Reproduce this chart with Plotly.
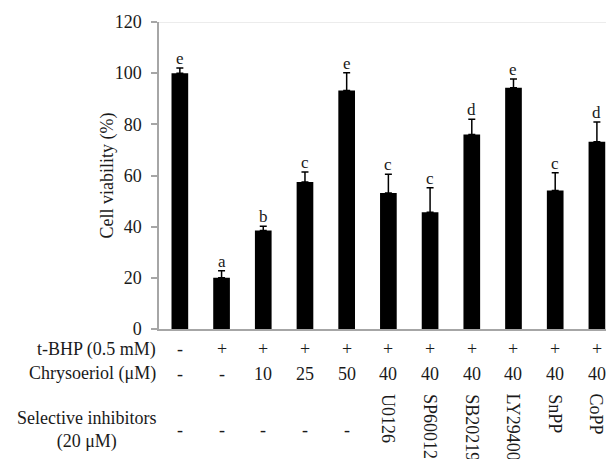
import plotly.graph_objects as go

# ---- data ----
positions = list(range(11))
viability = [100, 20, 38.5, 57.5, 93.2, 53.2, 45.6, 76.0, 94.3, 54.1, 73.2]
errors = [2.0, 2.8, 1.7, 3.9, 7.0, 7.3, 9.6, 6.0, 3.4, 7.0, 7.7]
letters = ["e", "a", "b", "c", "e", "c", "c", "d", "e", "c", "d"]
tbhp = ["-", "+", "+", "+", "+", "+", "+", "+", "+", "+", "+"]
chrysoeriol = ["-", "-", "10", "25", "50", "40", "40", "40", "40", "40", "40"]
inhibitors = ["-", "-", "-", "-", "-", "U0126", "SP600125", "SB202190",
              "LY294002", "SnPP", "CoPP"]
row_labels = ["t-BHP (0.5 mM)", "Chrysoeriol (μM)", "Selective inhibitors<br>(20 μM)"]
y_ticks = [0, 20, 40, 60, 80, 100, 120]
y_title = "Cell viability (%)"

FONT = "Liberation Serif"
TXT = "#1a1a1a"
AX = "#a6a6a6"

# the page body adds an 8 px margin, so the figure is sized to fill the rest
OFF = 8
W, H = 614 - OFF, 459 - OFF
L, R, T, B = 159 - OFF, 0, 22 - OFF, 130
PH = H - T - B
BOTTOM_PIX = 329  # page pixel of y = 0


def paper_y(pix):
    return (BOTTOM_PIX - pix) / PH


fig = go.Figure()
fig.add_trace(go.Bar(
    x=positions, y=viability, width=0.4,
    marker=dict(color="black", line=dict(width=0)),
    error_y=dict(type="data", array=errors, arrayminus=[0] * len(errors),
                 symmetric=False, color="black", thickness=1.5, width=3.5),
    showlegend=False,
))

ann = []
# significance letters
for xi, v, e, lt in zip(positions, viability, errors, letters):
    ann.append(dict(x=xi, y=v + e, xref="x", yref="y", text=lt, showarrow=False,
                    yanchor="bottom", xanchor="center", yshift=-2,
                    font=dict(family=FONT, size=17, color=TXT)))

# table rows
row_y = [349, 373.5, 430]
for xi, s in zip(positions, tbhp):
    ann.append(dict(x=xi, y=paper_y(row_y[0]), xref="x", yref="paper", text=s,
                    showarrow=False, yanchor="middle", xanchor="center",
                    font=dict(family=FONT, size=18, color=TXT)))
for xi, s in zip(positions, chrysoeriol):
    ann.append(dict(x=xi, y=paper_y(row_y[1]), xref="x", yref="paper", text=s,
                    showarrow=False, yanchor="middle", xanchor="center",
                    font=dict(family=FONT, size=18, color=TXT)))
for xi, s in zip(positions, inhibitors):
    if s == "-":
        ann.append(dict(x=xi, y=paper_y(row_y[2]), xref="x", yref="paper", text=s,
                        showarrow=False, yanchor="middle", xanchor="center",
                        font=dict(family=FONT, size=18, color=TXT)))
    else:
        ann.append(dict(x=xi, y=paper_y(392), xref="x", yref="paper", text=s,
                        showarrow=False, yanchor="top", xanchor="center",
                        textangle=90,
                        font=dict(family=FONT, size=18, color=TXT)))

for lbl, yp in zip(row_labels, row_y):
    ann.append(dict(x=0, y=paper_y(yp), xref="paper", yref="paper", text=lbl,
                    showarrow=False, yanchor="middle", xanchor="right",
                    align="center", xshift=-1,
                    font=dict(family=FONT, size=18, color=TXT)))

# y-axis title
ann.append(dict(x=0, y=0.5, xref="paper", yref="paper", text=y_title,
                showarrow=False, textangle=-90, xanchor="center",
                yanchor="middle", xshift=107 - 159,
                font=dict(family=FONT, size=18, color=TXT)))

fig.update_layout(
    width=W, height=H,
    margin=dict(l=L, r=R, t=T, b=B, autoexpand=False),
    paper_bgcolor="white", plot_bgcolor="white",
    annotations=ann,
    shapes=[dict(type="line", xref="paper", yref="y", x0=0, x1=1, y0=120, y1=120,
                 line=dict(color="#e6e6e6", width=1.5))],
    xaxis=dict(range=[-0.5, 10.41], showticklabels=False, ticks="",
               showgrid=False, zeroline=False, showline=True, linecolor=AX,
               linewidth=1.5),
    yaxis=dict(range=[0, 120], tickvals=y_ticks, ticks="outside", ticklen=6,
               tickcolor=AX, tickwidth=1.5, showgrid=False, zeroline=False,
               showline=True, linecolor=AX, linewidth=1.5,
               ticklabelstandoff=6,
               tickfont=dict(family=FONT, size=18, color=TXT)),
    bargap=0.6,
)

fig.write_html("out.html")
